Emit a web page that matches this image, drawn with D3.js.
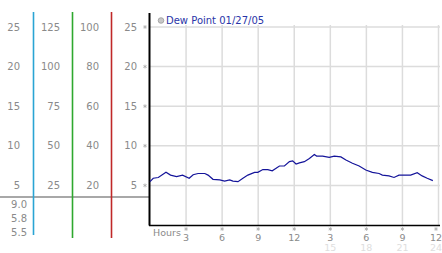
<!DOCTYPE html>
<html>
<head>
<meta charset="utf-8">
<script src="https://cdn.jsdelivr.net/npm/d3@7"></script>
<style>
  body { margin: 0; background: #fff; }
  text { font-family: "DejaVu Sans", Verdana, sans-serif; }
</style>
</head>
<body>
<div id="chart"></div>
<script>

// data
let hours = [0, 0.27, 0.69, 1.33, 1.71, 2.21, 2.71, 3.26, 3.59, 4.0, 4.56, 4.83, 5.24, 5.8, 6.21, 6.63, 6.9, 7.32,
  7.73, 8.14, 8.7, 8.97, 9.39, 9.8, 10.17, 10.77, 11.18, 11.6, 11.87, 12.15, 12.43, 12.84, 13.26, 13.67, 13.86,
  14.36, 14.91, 15.33, 15.88, 16.3, 16.84, 17.4, 17.95, 18.5, 19.06, 19.33, 19.88, 20.3, 20.71, 21.68, 22.23,
  22.64, 23.06, 23.53]
let dewPoint = [5.47, 5.9, 6.0, 6.65, 6.3, 6.1, 6.3, 5.9, 6.35, 6.5, 6.5, 6.3, 5.77, 5.7, 5.55, 5.7, 5.55, 5.47,
  5.9, 6.3, 6.65, 6.65, 7.0, 7.0, 6.85, 7.45, 7.45, 8.0, 8.1, 7.7, 7.85, 8.0, 8.4, 8.9, 8.7,
  8.7, 8.55, 8.7, 8.6, 8.2, 7.8, 7.45, 6.95, 6.65, 6.5, 6.3, 6.2, 6.0, 6.3, 6.3, 6.6,
  6.2, 5.9, 5.6]

let yTicks = [5, 10, 15, 20, 25]
let colA = ["5", "10", "15", "20", "25"]
let colB = ["25", "50", "75", "100", "125"]
let colC = ["20", "40", "60", "80", "100"]
let colD = ["5", "10", "15", "20", "25"]
let lowLabels = ["9.0", "5.8", "5.5"]

let hourTicks = [3, 6, 9, 12, 15, 18, 21, 24]
let hourLabels = ["3", "6", "9", "12", "3", "6", "9", "12"]
let hourLabels2 = ["", "", "", "", "15", "18", "21", "24"]
let legendText = "Dew Point 01/27/05"

let width = 442, height = 253

let svg = d3.select("#chart")
  .append("svg")
  .attr("width", width)
  .attr("height", height)

let x = d3.scaleLinear()
  .domain([0, 24])
  .range([150, 438.5])

let y = d3.scaleLinear()
  .domain([0, 25])
  .range([225, 27])

let star = d3.symbol().type(d3.symbolAsterisk).size(10)

// keep the last labels inside the window
let labelX = d => Math.min(x(d), 436)

// grid
svg.append("g")
  .selectAll("line")
  .data(yTicks)
  .join("line")
  .attr("x1", 150).attr("x2", 440)
  .attr("y1", d => y(d)).attr("y2", d => y(d))
  .attr("stroke", "#dcdcdc")
  .style("stroke-width", 1.5)

svg.append("g")
  .selectAll("line")
  .data(hourTicks)
  .join("line")
  .attr("x1", d => x(d)).attr("x2", d => x(d))
  .attr("y1", 25).attr("y2", 225)
  .attr("stroke", "#dcdcdc")
  .style("stroke-width", 1.5)

// left label columns
let cols = [
  { labels: colA, x: 20 },
  { labels: colB, x: 60 },
  { labels: colC, x: 99 },
  { labels: colD, x: 137 }
]
cols.forEach(c => {
  svg.append("g")
    .selectAll("text")
    .data(c.labels)
    .join("text")
    .attr("x", c.x)
    .attr("y", (d, i) => y(yTicks[i]) + 3.5)
    .attr("text-anchor", "end")
    .attr("fill", "#8a8a8a")
    .style("font-size", "10px")
    .text(d => d)
})

svg.append("g")
  .selectAll("path")
  .data(yTicks)
  .join("path")
  .attr("d", star)
  .attr("transform", d => "translate(145," + y(d) + ")")
  .attr("stroke", "#aaa")
  .attr("fill", "none")
  .style("stroke-width", 0.8)

svg.append("g")
  .selectAll("text")
  .data(lowLabels)
  .join("text")
  .attr("x", 27)
  .attr("y", (d, i) => 208 + i * 14)
  .attr("text-anchor", "end")
  .attr("fill", "#8a8a8a")
  .style("font-size", "10px")
  .text(d => d)

// gray separator
svg.append("line")
  .attr("x1", 0).attr("x2", 149)
  .attr("y1", 197).attr("y2", 197)
  .attr("stroke", "#a8a8a8")
  .style("stroke-width", 2)

// coloured column rules
let rules = [
  { x: 33.5, y2: 235, c: "#2aa4d4" },
  { x: 72.5, y2: 238, c: "#2ea82e" },
  { x: 111.5, y2: 238, c: "#c02828" }
]
svg.append("g")
  .selectAll("line")
  .data(rules)
  .join("line")
  .attr("x1", d => d.x).attr("x2", d => d.x)
  .attr("y1", 12).attr("y2", d => d.y2)
  .attr("stroke", d => d.c)
  .style("stroke-width", 1.6)

// axes
svg.append("line")
  .attr("x1", 149.5).attr("x2", 149.5)
  .attr("y1", 13).attr("y2", 225.5)
  .attr("stroke", "#000")
  .style("stroke-width", 2)

svg.append("line")
  .attr("x1", 149).attr("x2", 440)
  .attr("y1", 225.5).attr("y2", 225.5)
  .attr("stroke", "#000")
  .style("stroke-width", 1.5)

// x labels
svg.append("text")
  .attr("x", 153).attr("y", 236)
  .attr("fill", "#8a8a8a")
  .style("font-size", "9.5px")
  .text("Hours")

svg.append("g")
  .selectAll("path")
  .data(hourTicks)
  .join("path")
  .attr("d", star)
  .attr("transform", d => "translate(" + labelX(d) + ",229)")
  .attr("stroke", "#aaa")
  .attr("fill", "none")
  .style("stroke-width", 0.8)

svg.append("g")
  .selectAll("text")
  .data(hourLabels)
  .join("text")
  .attr("x", (d, i) => labelX(hourTicks[i]))
  .attr("y", 241)
  .attr("text-anchor", "middle")
  .attr("fill", "#8a8a8a")
  .style("font-size", "9.5px")
  .text(d => d)

svg.append("g")
  .selectAll("text")
  .data(hourLabels2)
  .join("text")
  .attr("x", (d, i) => labelX(hourTicks[i]))
  .attr("y", 251)
  .attr("text-anchor", "middle")
  .attr("fill", "#dedede")
  .style("font-size", "9.5px")
  .text(d => d)

// dew point line
svg.append("path")
  .datum(hours.map((h, i) => ({ h: h, v: dewPoint[i] })))
  .attr("d", d3.line()
    .x(d => x(d.h))
    .y(d => y(d.v)))
  .attr("stroke", "#14149a")
  .style("fill", "none")
  .style("stroke-width", 1.2)

// legend
svg.append("circle")
  .attr("cx", 161).attr("cy", 20.5)
  .attr("r", 2.8)
  .attr("fill", "#c8c8c8")
  .attr("stroke", "#999")
  .style("stroke-width", 0.8)

svg.append("text")
  .attr("x", 166).attr("y", 24)
  .attr("fill", "#2a35a8")
  .style("font-size", "10px")
  .text(legendText)

</script>
</body>
</html>
